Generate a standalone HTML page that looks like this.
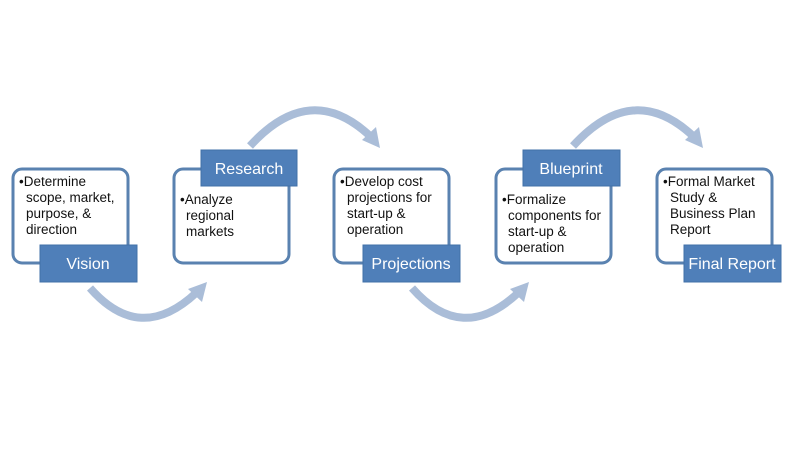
<!DOCTYPE html>
<html><head><style>
body{margin:0;width:800px;height:456px;background:#fff;overflow:hidden;font-family:"Liberation Sans",sans-serif}
</style></head><body>
<svg width="800" height="456" viewBox="0 0 800 456" xmlns="http://www.w3.org/2000/svg" font-family="Liberation Sans, sans-serif">
<g fill="none" stroke="#aabdd8" stroke-width="8">
<path d="M90,288 Q140,345 196,293"/>
<path d="M412,288 Q462,345 518,293"/>
<path d="M250,146 Q310,80 370,136"/>
<path d="M573,146 Q633,80 693,136"/>
</g>
<g fill="#aabdd8">
<polygon points="207,282 188,289 202,302"/>
<polygon points="529,282 510,289 524,302"/>
<polygon points="380,148 362,140 376,127"/>
<polygon points="703,148 685,140 699,127"/>
</g>
<g fill="#fff" stroke="#5a82b0" stroke-width="3">
<rect x="13" y="169" width="115" height="94" rx="9"/>
<rect x="174" y="169" width="115" height="94" rx="9"/>
<rect x="334" y="169" width="115" height="94" rx="9"/>
<rect x="496" y="169" width="115" height="94" rx="9"/>
<rect x="657" y="169" width="115" height="94" rx="9"/>
</g>
<g fill="#4f7fb9" stroke="#4270a8" stroke-width="1">
<rect x="40" y="245" width="97" height="37"/>
<rect x="201" y="150" width="96" height="36"/>
<rect x="363" y="245" width="97" height="37"/>
<rect x="523" y="150" width="97" height="36"/>
<rect x="684" y="245" width="97" height="37"/>
</g>
<g fill="#fff" font-size="16" text-anchor="middle">
<text x="88" y="269">Vision</text>
<text x="249" y="174">Research</text>
<text x="411" y="269">Projections</text>
<text x="571" y="174">Blueprint</text>
<text x="732" y="269">Final Report</text>
</g>
<g fill="#111" font-size="13.5">
<text x="19" y="186">•Determine</text>
<text x="26" y="202">scope, market,</text>
<text x="26" y="218">purpose, &amp;</text>
<text x="26" y="234">direction</text>
<text x="180" y="204">•Analyze</text>
<text x="186" y="220">regional</text>
<text x="186" y="236">markets</text>
<text x="340" y="186">•Develop cost</text>
<text x="347" y="202">projections for</text>
<text x="347" y="218">start-up &amp;</text>
<text x="347" y="234">operation</text>
<text x="502" y="204">•Formalize</text>
<text x="508" y="220">components for</text>
<text x="508" y="236">start-up &amp;</text>
<text x="508" y="252">operation</text>
<text x="663" y="186">•Formal Market</text>
<text x="670" y="202">Study &amp;</text>
<text x="670" y="218">Business Plan</text>
<text x="670" y="234">Report</text>
</g>
</svg>
</body></html>
